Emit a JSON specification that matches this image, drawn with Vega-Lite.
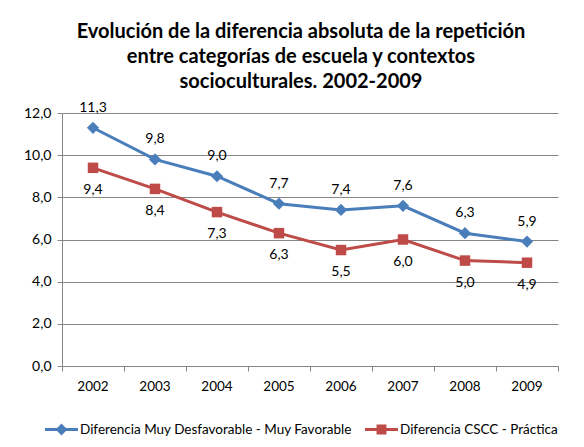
{
  "$schema": "https://vega.github.io/schema/vega-lite/v6.json",
  "width": 496,
  "height": 253,
  "autosize": {"type": "none"},
  "padding": {"left": 62, "top": 113, "right": 26, "bottom": 81},
  "background": "white",
  "config": {
    "view": {"stroke": null},
    "font": "Lato",
    "locale": {"number": {"decimal": ",", "thousands": ".", "grouping": [3], "currency": ["", " €"]}}
  },
  "title": {
    "text": ["Evolución de la diferencia absoluta de la repetición", "entre categorías de escuela y contextos", "socioculturales. 2002-2009"],
    "fontSize": 20,
    "fontWeight": "bold",
    "lineHeight": 25,
    "font": "Lato",
    "color": "#000000",
    "anchor": "middle",
    "dx": -9,
    "offset": 9
  },
  "data": {
    "values": [
      {"year": "2002", "serie": "Diferencia Muy Desfavorable - Muy Favorable", "valor": 11.3},
      {"year": "2003", "serie": "Diferencia Muy Desfavorable - Muy Favorable", "valor": 9.8},
      {"year": "2004", "serie": "Diferencia Muy Desfavorable - Muy Favorable", "valor": 9.0},
      {"year": "2005", "serie": "Diferencia Muy Desfavorable - Muy Favorable", "valor": 7.7},
      {"year": "2006", "serie": "Diferencia Muy Desfavorable - Muy Favorable", "valor": 7.4},
      {"year": "2007", "serie": "Diferencia Muy Desfavorable - Muy Favorable", "valor": 7.6},
      {"year": "2008", "serie": "Diferencia Muy Desfavorable - Muy Favorable", "valor": 6.3},
      {"year": "2009", "serie": "Diferencia Muy Desfavorable - Muy Favorable", "valor": 5.9},
      {"year": "2002", "serie": "Diferencia CSCC - Práctica", "valor": 9.4},
      {"year": "2003", "serie": "Diferencia CSCC - Práctica", "valor": 8.4},
      {"year": "2004", "serie": "Diferencia CSCC - Práctica", "valor": 7.3},
      {"year": "2005", "serie": "Diferencia CSCC - Práctica", "valor": 6.3},
      {"year": "2006", "serie": "Diferencia CSCC - Práctica", "valor": 5.5},
      {"year": "2007", "serie": "Diferencia CSCC - Práctica", "valor": 6.0},
      {"year": "2008", "serie": "Diferencia CSCC - Práctica", "valor": 5.0},
      {"year": "2009", "serie": "Diferencia CSCC - Práctica", "valor": 4.9}
    ]
  },
  "encoding": {
    "x": {
      "field": "year", "type": "ordinal",
      "scale": {"type": "band", "paddingInner": 0, "paddingOuter": 0},
      "axis": {
        "title": null, "labelAngle": 0, "labelFontSize": 13.5, "labelColor": "#000000",
        "labelPadding": 8, "domainColor": "#868686", "tickColor": "#868686", "tickSize": 5,
        "bandPosition": 1, "tickExtra": true, "grid": false, "domainWidth": 1
      }
    },
    "y": {
      "field": "valor", "type": "quantitative",
      "scale": {"domain": [0, 12], "nice": false},
      "axis": {
        "title": null, "values": [0, 2, 4, 6, 8, 10, 12], "format": ".1f",
        "labelFontSize": 14, "labelColor": "#000000", "labelPadding": 6,
        "domainColor": "#868686", "tickColor": "#868686", "tickSize": 5,
        "gridColor": "#868686", "gridWidth": 1
      }
    },
    "color": {
      "field": "serie", "type": "nominal",
      "scale": {"domain": ["Diferencia Muy Desfavorable - Muy Favorable", "Diferencia CSCC - Práctica"], "range": ["#4A7EBB", "#BE4B48"]},
      "legend": {
        "title": null, "orient": "none", "direction": "horizontal",
        "legendX": -17, "legendY": 300,
        "labelFontSize": 13.5, "labelColor": "#000000", "labelOffset": 2, "labelLimit": 400,
        "symbolSize": 1089, "columnPadding": 12,
        "symbolType": "M-1,-0.09L1,-0.09L1,0.09L-1,0.09Z",
        "symbolStrokeWidth": 0,
        "encode": {
          "symbols": {
            "update": {
              "shape": {"signal": "datum.value === 'Diferencia CSCC - Práctica' ? 'M-1,-0.09L1,-0.09L1,0.09L-1,0.09Z M-0.3,-0.3L0.3,-0.3L0.3,0.3L-0.3,0.3Z' : 'M-1,-0.09L1,-0.09L1,0.09L-1,0.09Z M0,-0.36L0.36,0L0,0.36L-0.36,0Z'"},
              "fill": {"signal": "datum.value === 'Diferencia CSCC - Práctica' ? '#BE4B48' : '#4A7EBB'"},
              "strokeWidth": {"value": 0},
              "opacity": {"value": 1}
            }
          }
        }
      }
    }
  },
  "layer": [
    {
      "mark": {"type": "line", "strokeWidth": 3}
    },
    {
      "transform": [{"filter": "datum.serie === 'Diferencia Muy Desfavorable - Muy Favorable'"}],
      "mark": {"type": "point", "filled": true, "opacity": 1, "shape": "diamond", "size": 150}
    },
    {
      "transform": [{"filter": "datum.serie === 'Diferencia CSCC - Práctica'"}],
      "mark": {"type": "point", "filled": true, "opacity": 1, "shape": "square", "size": 110}
    },
    {
      "transform": [{"filter": "datum.serie === 'Diferencia Muy Desfavorable - Muy Favorable'"}],
      "mark": {"type": "text", "dy": -20, "fontSize": 14, "color": "#000000"},
      "encoding": {"text": {"field": "valor", "type": "quantitative", "format": ".1f"}, "color": {"value": "#000000"}}
    },
    {
      "transform": [{"filter": "datum.serie === 'Diferencia CSCC - Práctica'"}],
      "mark": {"type": "text", "dy": 22, "fontSize": 14, "color": "#000000"},
      "encoding": {"text": {"field": "valor", "type": "quantitative", "format": ".1f"}, "color": {"value": "#000000"}}
    }
  ]
}
